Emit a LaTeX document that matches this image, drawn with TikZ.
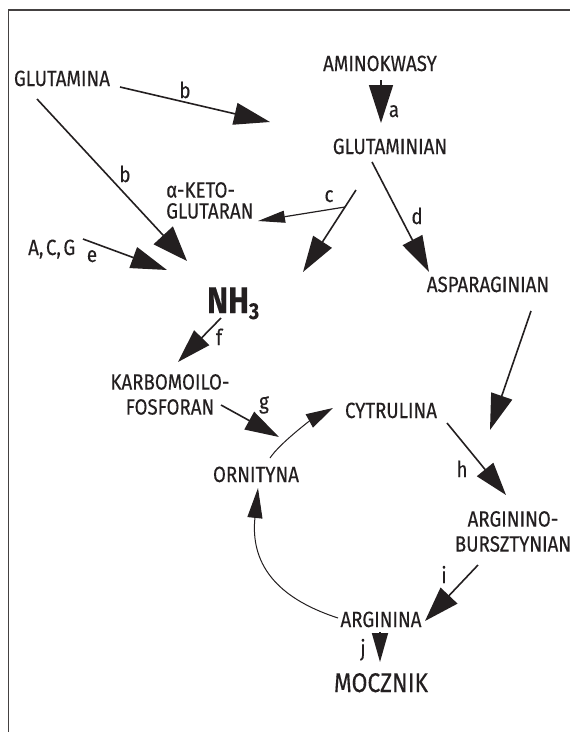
\documentclass[tikz,border=0pt]{standalone}
\usepackage{fontspec}
\setmainfont{Fira Sans}[FakeStretch=0.85, FakeBold=0.3]
\usetikzlibrary{arrows.meta}
\definecolor{ink}{HTML}{231F20}
\tikzset{
  txt/.style={anchor=base, inner sep=0pt, text=ink, font=\fontsize{22}{22}\selectfont},
  lbl/.style={anchor=base, inner sep=0pt, text=ink, font=\fontsize{22}{22}\selectfont},
  big/.style={draw=ink, line width=1.6pt, -{Triangle[length=36pt,width=22pt]}},
  mid/.style={draw=ink, line width=1.2pt, -{Triangle[length=28pt,width=14pt]}},
  thin/.style={draw=ink, line width=1pt, -{Triangle[length=28pt,width=15pt]}},
}
\begin{document}
\begin{tikzpicture}[x=1pt,y=-1pt]
\useasboundingbox (0,0) rectangle (570,732);
% frame
\draw[line width=1.5pt, color=ink!85] (8.5,732) -- (8.5,10) -- (570,10);
% texts
\node[txt] (glutamina) at (62,86) {GLUTAMINA};
\node[txt] (amino) at (380,71) {AMINOKWASY};
\node[txt] (glutaminian) at (390,154) {GLUTAMINIAN};
\node[txt, anchor=south west, align=left, font=\fontsize{22}{21}\selectfont] (keto) at (166,219) {α-KETO-\\GLUTARAN};
\node[txt, anchor=base west] (acg) at (28,255) {A,\kern2.5pt C,\kern2.5pt G};
\node[txt, anchor=base west, font=\fontsize{37}{40}\bfseries] (nh3) at (207,313) {NH\raisebox{-6pt}{\fontsize{23}{23}\selectfont 3}};
\node[txt] (aspar) at (488,292) {ASPARAGINIAN};
\node[txt, anchor=south, align=center, font=\fontsize{22}{25}\selectfont] (karb) at (170,415) {KARBOMOILO-\\FOSFORAN};
\node[txt] (cytr) at (391,418) {CYTRULINA};
\node[txt] (ornit) at (256,482) {ORNITYNA};
\node[txt, anchor=south, align=center, font=\fontsize{22}{25}\selectfont] (argsucc) at (513,552) {ARGININO-\\BURSZTYNIAN};
\node[txt] (arginina) at (381,627) {ARGININA};
\node[txt, font=\fontsize{27}{30}\selectfont] (mocznik) at (381,692) {MOCZNIK};
% labels
\node[lbl] (lb1) at (185,98) {b};
\node[lbl] (lb2) at (125,182) {b};
\node[lbl] (la) at (394,117) {a};
\node[lbl] (lc) at (329,202) {c};
\node[lbl] (ld) at (417,224) {d};
\node[lbl] (le) at (92,262) {e};
\node[lbl] (lf) at (219,345) {f};
\node[lbl] (lg) at (264,409) {g};
\node[lbl] (lh) at (462,477) {h};
\node[lbl] (li) at (444,583) {i};
\node[lbl] (lj) at (363,656) {j};
% connector end points
\coordinate (gA) at (120,87);   \coordinate (gAt) at (270,122);
\coordinate (gB) at (37,99);    \coordinate (gBt) at (187,261);
\coordinate (eA) at (83,239);   \coordinate (eAt) at (167,270);
\coordinate (aA) at (381,80);   \coordinate (aAt) at (381,123);
\coordinate (sA) at (356,190);  \coordinate (sAt) at (303,272);
\coordinate (cA) at (345,207);  \coordinate (cAt) at (258,221);
\coordinate (dA) at (372,162);  \coordinate (dAt) at (429,272);
\coordinate (pA) at (531,311);  \coordinate (pAt) at (490,430);
\coordinate (fA) at (221,318);  \coordinate (fAt) at (178,362);
\coordinate (kA) at (221,405);  \coordinate (kAt) at (279,437);
\coordinate (oA) at (270,458);  \coordinate (oAt) at (333,408);
\coordinate (hA) at (447,423);  \coordinate (hAt) at (506,495);
\coordinate (iA) at (478,565);  \coordinate (iAt) at (425,621);
\coordinate (jA) at (380,632);  \coordinate (jAt) at (380,662);
\coordinate (rA) at (338,618);  \coordinate (rAt) at (258,488);
% connectors
\draw[big] (gA) -- (gAt);
\draw[big, -{Triangle[length=35pt,width=26pt]}] (gB) -- (gBt);
\draw[big] (eA) -- (eAt);
\draw[big, -{Triangle[length=38pt,width=24pt]}] (aA) -- (aAt);
\draw[big] (sA) -- (sAt);
\draw[mid, -{Triangle[length=27pt,width=12pt]}] (cA) -- (cAt);
\draw[big] (dA) -- (dAt);
\draw[big] (pA) -- (pAt);
\draw[big, -{Triangle[length=34pt,width=21pt]}] (fA) -- (fAt);
\draw[big, -{Triangle[length=34pt,width=20pt]}] (kA) -- (kAt);
\draw[thin, -{Triangle[length=27pt,width=15pt]}] (oA) .. controls (280,443) and (311,420) .. (oAt);
\draw[big, -{Triangle[length=33pt,width=21pt]}] (hA) -- (hAt);
\draw[big, -{Triangle[length=35pt,width=23pt]}] (iA) -- (iAt);
\draw[big, -{Triangle[length=29pt,width=16pt]}] (jA) -- (jAt);
\draw[thin, -{Triangle[length=30pt,width=15pt]}] (rA) .. controls (292,603) and (249,575) .. (rAt);
\end{tikzpicture}
\end{document}
